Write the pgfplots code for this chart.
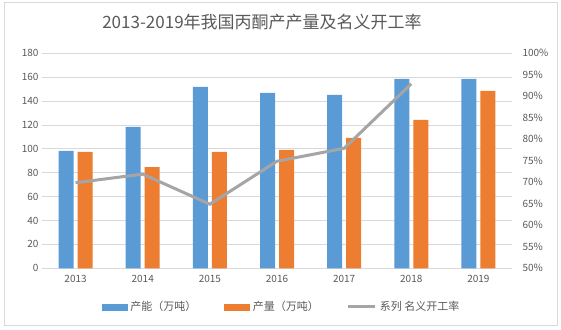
\documentclass[border=0pt]{standalone}
\usepackage{pgfplots}
\pgfplotsset{compat=1.18}
\usepackage{fontspec}
\setmainfont{Noto Sans CJK SC}
\definecolor{cblue}{HTML}{5B9BD5}
\definecolor{corange}{HTML}{ED7D31}
\definecolor{cgray}{HTML}{A5A5A5}
\definecolor{gridgray}{HTML}{D9D9D9}
\definecolor{textgray}{HTML}{595959}
\begin{document}
\begin{tikzpicture}
\path[use as bounding box] (0,0) rectangle (561pt,329pt);
\draw[gridgray, line width=0.8pt] (4pt,4pt) rectangle (557pt,327pt);
\node[text=textgray, font=\fontsize{17}{20}\selectfont] at (262pt,307pt) {2013-2019年我国丙酮产产量及名义开工率};
\begin{axis}[
  at={(42pt,60.7pt)}, anchor=south west, scale only axis,
  width=470pt, height=215pt,
  xmin=-0.5, xmax=6.5, ymin=0, ymax=180,
  ytick={0,20,...,180},
  xtick={0,1,2,3,4,5,6},
  xticklabels={2013,2014,2015,2016,2017,2018,2019},
  ymajorgrids, grid style={color=gridgray, line width=0.8pt},
  axis x line*=bottom, axis y line*=left,
  y axis line style={draw=none},
  x axis line style={draw=gridgray, line width=0.8pt, -},
  major tick length=0pt,
  tick label style={font=\fontsize{10}{12}\selectfont, text=textgray},
  /pgf/number format/assume math mode=true,
  ybar=4pt, bar width=15pt,
  xticklabel style={yshift=-3pt},
]
\addplot[fill=cblue, draw=none] coordinates {(0,98.3) (1,118.4) (2,151.8) (3,146.8) (4,145.1) (5,158.5) (6,158.5)};
\addplot[fill=corange, draw=none] coordinates {(0,97.4) (1,84.8) (2,97.4) (3,99.1) (4,109.1) (5,124.2) (6,148.5)};
\end{axis}
\begin{axis}[
  at={(42pt,60.7pt)}, anchor=south west, scale only axis,
  width=470pt, height=215pt,
  xmin=-0.5, xmax=6.5, ymin=50, ymax=100,
  ytick={50,55,...,100},
  yticklabel={\pgfmathprintnumber{\tick}\%},
  axis y line*=right, y axis line style={draw=none},
  hide x axis,
  major tick length=0pt,
  tick label style={font=\fontsize{10}{12}\selectfont, text=textgray},
  yticklabel style={xshift=7pt},
  /pgf/number format/assume math mode=true,
  legend columns=3,
  legend style={at={(0.51,-0.18)}, anchor=center, draw=none, fill=none,
    font=\fontsize{11}{12}\selectfont, text=textgray,
    /tikz/every odd column/.append style={column sep=1pt},
    /tikz/every even column/.append style={column sep=26pt}},
]
\addlegendimage{legend image code/.code={\fill[cblue] (0pt,-3pt) rectangle (25pt,3pt);}}
\addlegendentry{产能（万吨）}
\addlegendimage{legend image code/.code={\fill[corange] (0pt,-3pt) rectangle (25pt,3pt);}}
\addlegendentry{产量（万吨）}
\addplot[color=cgray, line width=3pt, no marks, legend image code/.code={\draw[cgray, line width=3pt] (0pt,0pt) -- (27pt,0pt);}] coordinates {(0,69.9) (1,71.9) (2,64.9) (3,74.9) (4,77.9) (5,92.9)};
\addlegendentry{系列 名义开工率}
\end{axis}
\end{tikzpicture}
\end{document}
